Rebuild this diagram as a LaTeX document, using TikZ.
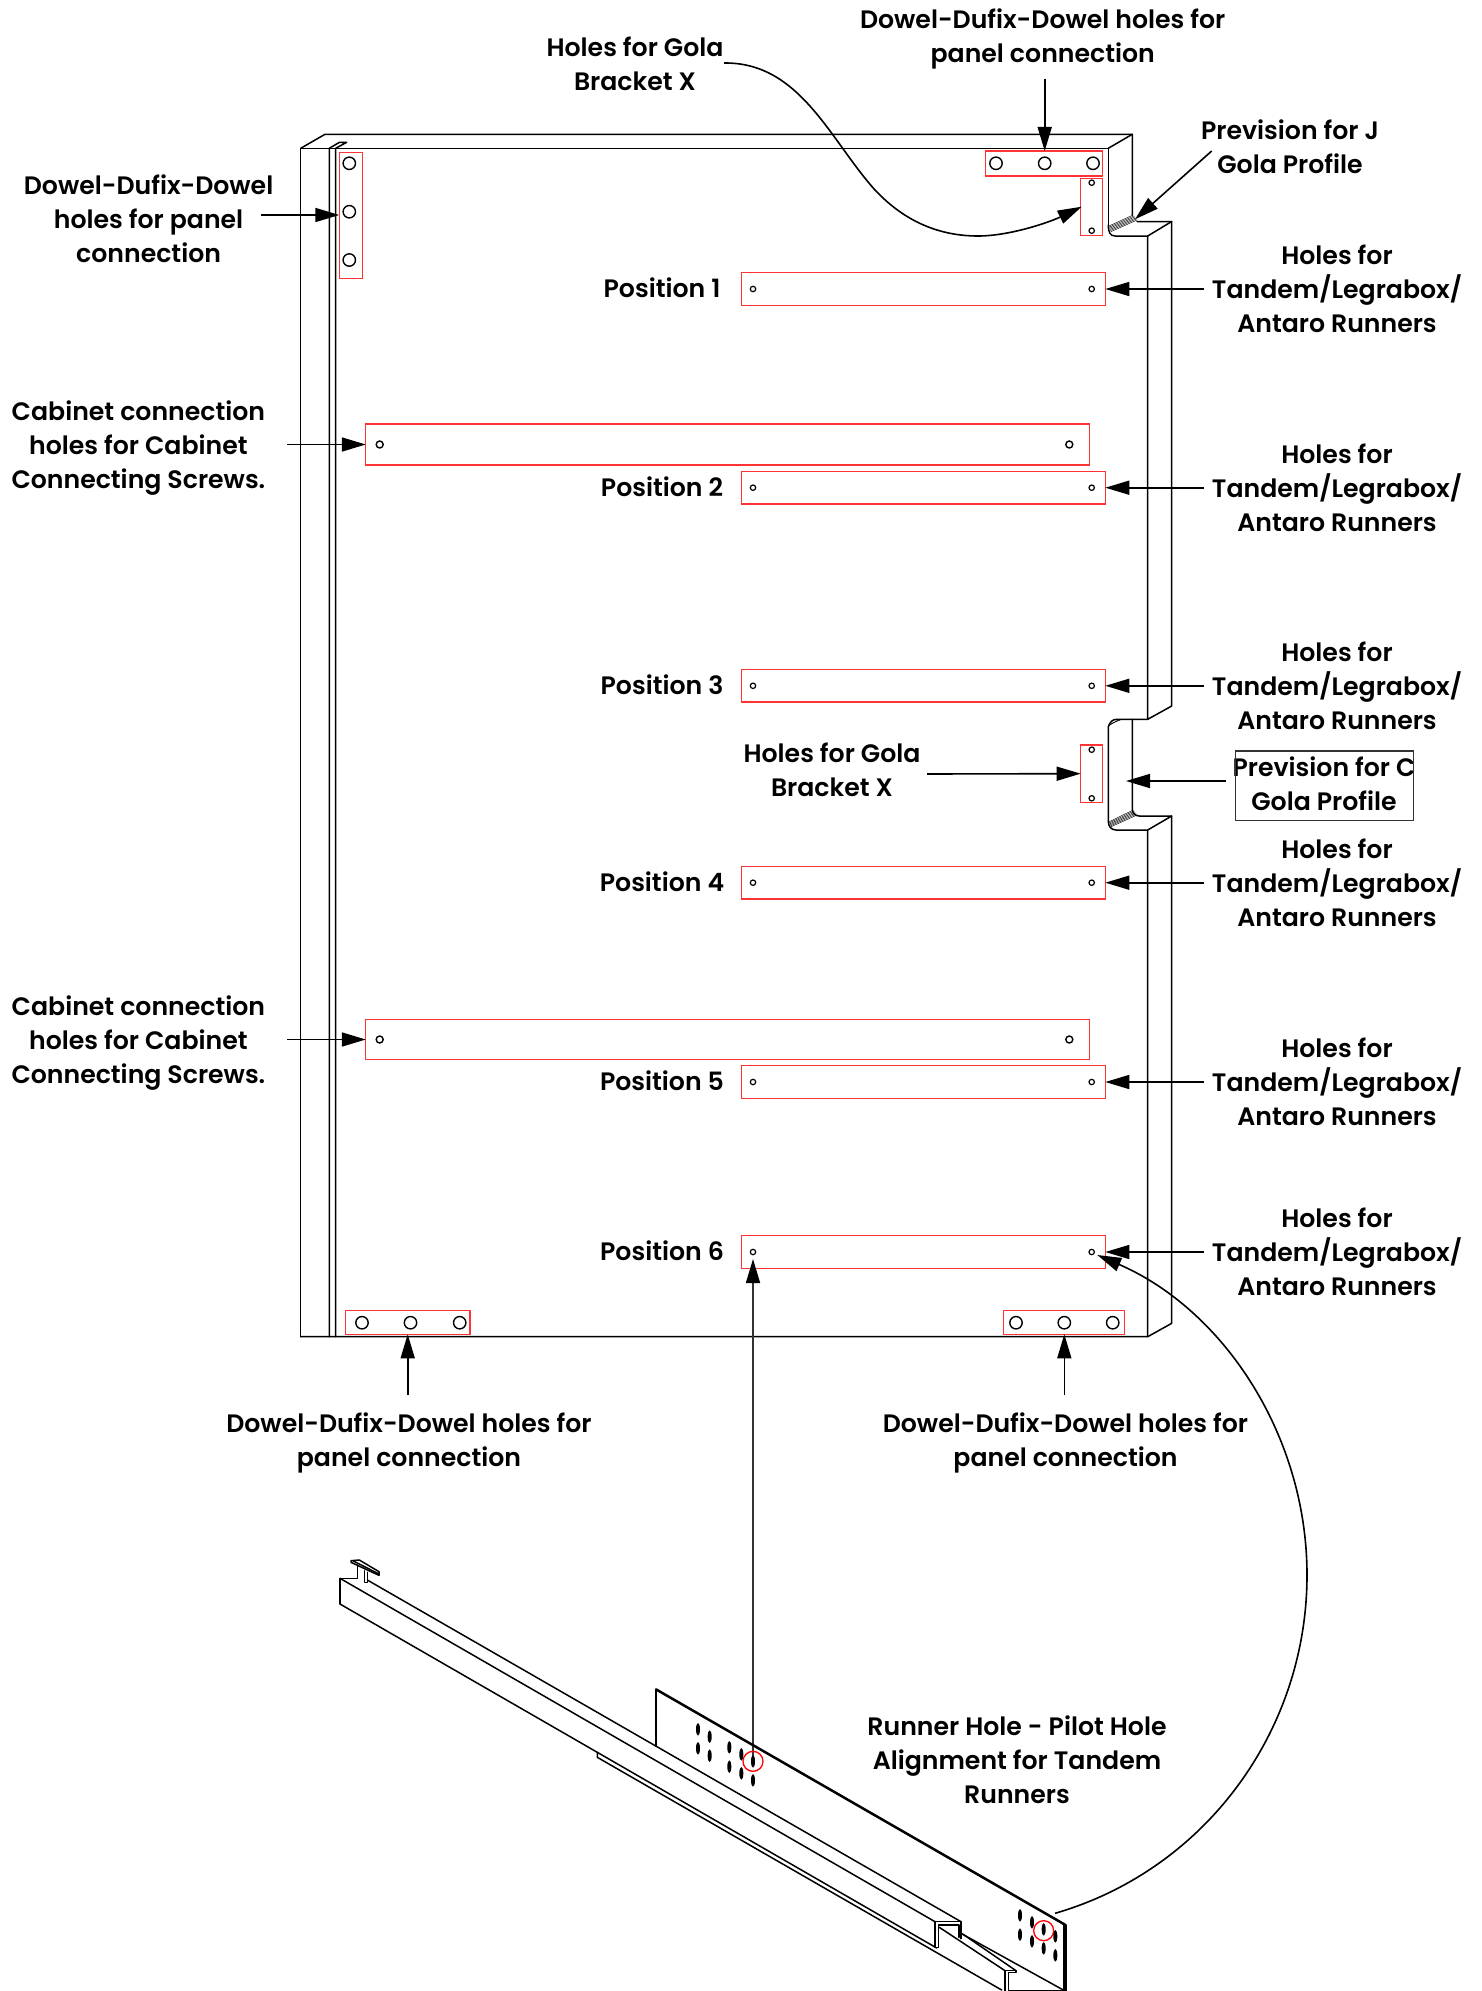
\documentclass[tikz,border=0pt]{standalone}
\usepackage{fontspec}
\setmainfont{Poppins}[BoldFont={Poppins SemiBold}]
\usetikzlibrary{arrows.meta}
\tikzset{
 lbl/.style={align=center,inner sep=0pt,font=\fontsize{25.2}{34}\selectfont\bfseries},
 rbox/.style={draw=red!80!white,line width=1.2pt,inner sep=0pt,outer sep=0pt,fill=none,minimum width=#1},
 lin/.style={line width=1.5pt,line cap=round,line join=round},
 thk/.style={line width=2.5pt,line cap=round,line join=round},
 hatch/.style={line width=0.45pt},
 arr/.style={line width=1.6pt,-{Triangle[length=24pt,width=14pt,black]}},
 big/.style={line width=1.4pt},
 sm/.style={line width=1.2pt},
}
\newcommand{\rowlabel}[2]{%
 \node[rbox=363.6pt,minimum height=32.5pt,anchor=east] (pos#1) at (1105.3,#2) {};
 \draw[sm] (753,#2) circle (2.7);
 \draw[sm] (1091.7,#2) circle (2.7);
 \node[lbl] (plabel#1) at (662,#2-1) {Position #1};
 \node[lbl] (hlabel#1) at (1337,#2) {Holes for\\Tandem/Legrabox/\\Antaro Runners};
 \coordinate (hs#1) at (1204,#2);
 \draw[arr] (hs#1) -- (pos#1.east);
}
\begin{document}
\begin{tikzpicture}[x=1pt,y=-1pt]
\useasboundingbox (0,0) rectangle (1481,1991);
% panel
\draw[lin] (1108.3,225) .. controls (1108.3,232) and (1110,236) .. (1115,236) -- (1147.7,236) -- (1147.7,719.3) -- (1171.7,706) -- (1171.7,236-14.5) -- (1137,221.5);
\draw[lin] (1147.7,236) -- (1171.7,221.5);
\draw[lin] (300.7,1336.7) -- (300.7,148.3) -- (1108.3,148.3) -- (1108.3,225);
\draw[lin] (300.7,148.3) -- (325,134.3) -- (1132.3,134.3) -- (1132.3,215);
\draw[lin] (1108.3,148.3) -- (1132.3,134.3);
\draw[lin] (329.3,1336.7) -- (329.3,148.3) -- (339.5,142.3) -- (346.7,142.3) -- (335.7,148.3) -- (335.7,1336.7);
\draw[lin] (300.7,1336.7) -- (1147.7,1336.7) -- (1147.7,830) -- (1116,830) .. controls (1111,830) and (1108.3,826) .. (1108.3,821.7) -- (1108.3,726.7) .. controls (1110,722) and (1112,719.3) .. (1117.3,719.3) -- (1147.7,719.3);
\draw[lin] (1132.3,719.3) -- (1132.3,809.3) .. controls (1132.3,813) and (1135,816) .. (1139.3,816) -- (1171.7,816) -- (1171.7,1323.3) -- (1147.7,1336.7);
\draw[lin] (1147.7,830) -- (1171.7,816);
% hatches
\foreach \t in {0.14,0.28,0.42,0.56,0.7,0.84}{
 \draw[hatch] ({1108.3+\t*3},{225+\t*8}) -- ({1132.3+\t*6},{214+\t*7});
 \draw[hatch] ({1108.3+\t*3},{821+\t*7}) -- ({1132.3+\t*6},{809+\t*7});
}
\foreach \t in {0,0.4,0.8}{
 \draw[hatch] ({1108.3+\t*3},{726-\t*3}) -- ({1118+\t*3},{720});
}
% red boxes
\node[rbox=23pt,minimum height=126pt,anchor=north west] (bTL) at (339.3,152.3) {};
\node[rbox=117pt,minimum height=25pt,anchor=north west] (bTR) at (985.7,151) {};
\node[rbox=22pt,minimum height=57.4pt,anchor=north west] (bG1) at (1080.7,178.3) {};
\node[rbox=22pt,minimum height=57.3pt,anchor=north west] (bG2) at (1080.7,745) {};
\node[rbox=724pt,minimum height=41pt,anchor=west] (bC1) at (365.8,444.5) {};
\node[rbox=724pt,minimum height=40pt,anchor=west] (bC2) at (365.8,1039.5) {};
\node[rbox=124.6pt,minimum height=23.7pt,anchor=north west] (bBL) at (345.4,1310.7) {};
\node[rbox=121pt,minimum height=23.6pt,anchor=north west] (bBR) at (1003.3,1310.7) {};
% holes
\foreach \y in {163.3,211.7,260}{\draw[big] (349.3,\y) circle (6.2);}
\foreach \x in {996,1044.7,1093}{\draw[big] (\x,163.3) circle (6.2);}
\foreach \x in {362,410.5,459.7}{\draw[big] (\x,1322.7) circle (6.2);}
\foreach \x in {1016,1064.3,1112.7}{\draw[big] (\x,1322.7) circle (6.2);}
\foreach \y in {182.7,230.7,749.7,798.3}{\draw[sm] (1091.7,\y) circle (2.7);}
\foreach \y in {444.5,1039.5}{\draw[big] (379.7,\y) circle (3.5);\draw[big] (1069.3,\y) circle (3.5);}
% position rows
\rowlabel{1}{289}
\rowlabel{2}{487.7}
\rowlabel{3}{685.8}
\rowlabel{4}{882.7}
\rowlabel{5}{1082}
\rowlabel{6}{1252}
% labels
\node[lbl] (tG) at (635,63.5) {Holes for Gola\\Bracket X};
\node[lbl] (tD) at (1042.7,38.5) {Dowel-Dufix-Dowel holes for\\panel connection};
\node[lbl] (tJ) at (1290,147) {Prevision for J\\Gola Profile};
\node[lbl] (tL) at (148.6,218.4) {Dowel-Dufix-Dowel\\holes for panel\\connection};
\node[lbl] (tC1) at (138.4,448) {Cabinet connection\\holes for Cabinet\\Connecting Screws.};
\node[lbl] (tC2) at (138.4,1043) {Cabinet connection\\holes for Cabinet\\Connecting Screws.};
\node[lbl] (tG2) at (832,770) {Holes for Gola\\Bracket X};
\node[lbl] (tBL) at (409,1443) {Dowel-Dufix-Dowel holes for\\panel connection};
\node[lbl] (tBR) at (1065.5,1443) {Dowel-Dufix-Dowel holes for\\panel connection};
\node[lbl] (tR) at (1017,1760) {Runner Hole - Pilot Hole\\Alignment for Tandem\\Runners};
\node[lbl] (tPC) at (1324,784) {Prevision for C\\Gola Profile};
\node[draw=black!80,line width=1.4pt,minimum width=178.4pt,minimum height=69.7pt,inner sep=0pt] (boxC) at (1324.5,785.8) {};
% arrows
\coordinate (s1) at (1044.7,78.7);
\coordinate (s2) at (1211.7,151);
\coordinate (e2) at (1135,219.3);
\coordinate (s3) at (261,215);
\coordinate (e3) at (339.3,215);
\coordinate (s4) at (287,444.5);
\coordinate (s5) at (287,1039.5);
\coordinate (s6) at (927,774);
\coordinate (s7) at (1226,781);
\coordinate (e7) at (1126,781);
\coordinate (s8) at (407.7,1394.5);
\coordinate (s9) at (1064.3,1394.5);
\coordinate (s10) at (753,1760);
\coordinate (e10) at (753,1259);
\coordinate (s11) at (724,63);
\coordinate (e11) at (1081.7,206.7);
\coordinate (s12) at (1055,1913.3);
\coordinate (e12) at (1097.3,1255);
\draw[arr] (s1) -- (1044.7,151);
\draw[arr] (s2) -- (e2);
\draw[arr] (s3) -- (e3);
\draw[arr] (s4) -- (bC1.west);
\draw[arr] (s5) -- (bC2.west);
\draw[arr] (s6) -- (bG2.west);
\draw[arr] (s7) -- (e7);
\draw[arr] (s8) -- (407.7,1334.3);
\draw[arr] (s9) -- (1064.3,1334.3);
\draw[arr,draw=black!80] (s10) -- (e10);
\draw[arr] (s11) .. controls (800,62) and (830,140) .. (875,190) .. controls (905,222) and (940,236) .. (978,236) .. controls (1010,236) and (1050,222) .. (e11);
\draw[arr] (s12) .. controls (1205,1870) and (1307,1731) .. (1307,1575) .. controls (1307,1436) and (1224,1310) .. (e12);
% runner
\begin{scope}[shift={(320,1530)},scale=1/3]
\draw[lin] (93,92) -- (118,90) -- (177,125) -- (177,136) -- (93,97) -- cycle;
\draw[lin] (100,93) -- (175,131);
\draw[lin] (112,105) -- (112,145) -- (60,145) -- (60,222);
\draw[lin] (133,122) -- (133,158) -- (142,158) -- (142,127);
\draw[lin] (142,150) -- (1923,1175);
\draw[lin] (60,145) -- (1845,1175);
\draw[lin] (60,222) -- (832,667);
\draw[lin] (832,667) -- (832,682) -- (2045,1380);
\draw[lin] (832,667) -- (1850,1254);
\draw[lin] (1008,648) -- (1008,478);
\draw[thk] (1008,478) -- (2235,1184);
\draw[red,line width=1.3pt] (1299,694) circle (30);
\foreach \x/\y in {1134/598,1134/655,1169/620,1169/677,1228/652,1228/710,1264/673,1264/730,1299/694,1299/751}{
 \fill (\x,\y) ellipse (6 and 19);
}
\end{scope}
\begin{scope}[shift={(880,1840)},scale=1/3]
\draw[lin] (552,253) -- (552,453);
\draw[lin] (558,255) -- (558,453);
\draw[lin] (548,251) -- (558,255);
\draw[lin] (165,245) -- (243,245) -- (243,296);
\draw[lin] (165,245) -- (165,322) -- (176,322) -- (176,255) -- (237,255) -- (237,292);
\draw[lin] (178,262) -- (375,392);
\draw[lin] (243,280) -- (550,450);
\draw[lin] (248,282) -- (408,392);
\draw[lin] (375,392) -- (408,392) -- (408,398) -- (385,398) -- (385,451) -- (552,451);
\draw[lin] (375,392) -- (375,453);
\draw[red,line width=1.3pt] (491,272) circle (30);
\foreach \x/\y in {420/226,420/284,456/247,456/304,491/268,491/325,526/289,526/346}{
 \fill (\x,\y) ellipse (6 and 19);
}
\end{scope}
\end{tikzpicture}
\end{document}
